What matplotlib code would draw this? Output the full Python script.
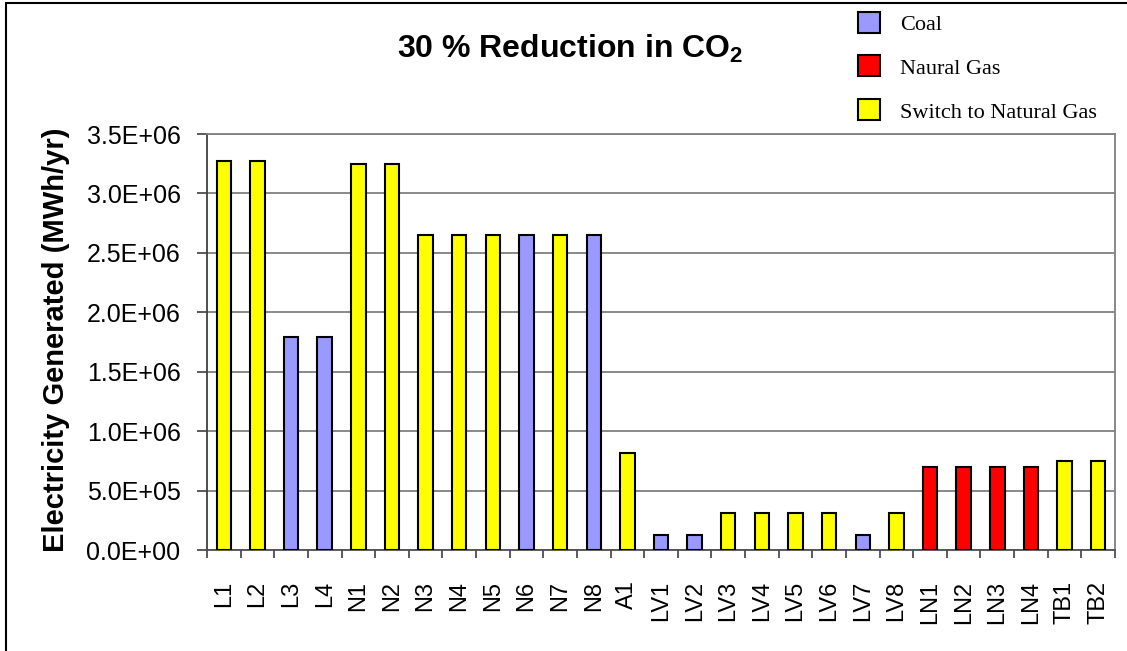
"""
30 % reduction in CO2 - electricity generated per plant
"""
import matplotlib
matplotlib.use("Agg")
import matplotlib.pyplot as plt
from matplotlib.patches import Rectangle

plt.rcParams["font.family"] = ["Liberation Sans", "DejaVu Sans"]
plt.rcParams["mathtext.fontset"] = "custom"
plt.rcParams["mathtext.rm"] = "Liberation Sans"
plt.rcParams["mathtext.bf"] = "Liberation Sans:bold"

# plants and generation (MWh/yr)
plants = ["L1", "L2", "L3", "L4", "N1", "N2", "N3", "N4", "N5", "N6", "N7", "N8",
          "A1", "LV1", "LV2", "LV3", "LV4", "LV5", "LV6", "LV7", "LV8",
          "LN1", "LN2", "LN3", "LN4", "TB1", "TB2"]
generation = [3.27e6, 3.27e6, 1.79e6, 1.79e6, 3.25e6, 3.25e6, 2.65e6, 2.65e6,
              2.65e6, 2.65e6, 2.65e6, 2.65e6,
              0.82e6, 0.13e6, 0.13e6, 0.31e6, 0.31e6, 0.31e6, 0.31e6, 0.13e6, 0.31e6,
              0.70e6, 0.70e6, 0.70e6, 0.70e6, 0.745e6, 0.745e6]
fuel = ["S", "S", "C", "C", "S", "S", "S", "S", "S", "C", "S", "C",
        "S", "C", "C", "S", "S", "S", "S", "C", "S",
        "G", "G", "G", "G", "S", "S"]

fuel_keys = ["C", "G", "S"]
fuel_labels = ["Coal", "Naural Gas", "Switch to Natural Gas"]
fuel_colors = {"C": "#9999FF", "G": "#FF0000", "S": "#FFFF00"}

y_ticks = [0, 0.5e6, 1.0e6, 1.5e6, 2.0e6, 2.5e6, 3.0e6, 3.5e6]

W, H = 1127, 651
fig = plt.figure(figsize=(W / 100, H / 100), dpi=100)
ax = fig.add_axes([207 / W, 1 - 550 / H, 908 / W, 416 / H])

x = list(range(len(plants)))
ax.bar(x, generation, width=0.43, color=[fuel_colors[f] for f in fuel],
       edgecolor="black", linewidth=1.5, zorder=3)

ax.set_xlim(-0.5, len(plants) - 0.5)
ax.set_ylim(0, 3.5e6)
ax.set_yticks(y_ticks)
ax.set_yticklabels([f"{v:.1E}" for v in y_ticks])
ax.yaxis.grid(True, color="#808080", linewidth=1.3, zorder=0)

ax.set_xticks(x)
ax.set_xticklabels(plants, rotation=90, va="top")
ax.set_xticks([i - 0.5 for i in range(len(plants) + 1)], minor=True)
ax.tick_params(axis="x", which="major", length=0, pad=22, labelsize=17)
ax.tick_params(axis="x", which="minor", length=6, width=1.2, color="#404040")
ax.tick_params(axis="y", length=7, width=1.2, color="#404040", pad=12, labelsize=18)

ax.spines["left"].set_color("#404040")
ax.spines["bottom"].set_color("#505050")
ax.spines["right"].set_color("#808080")
ax.spines["top"].set_color("#808080")
for s in ax.spines.values():
    s.set_linewidth(1.3)

fig.text(570 / W, 1 - 49 / H, r"30 % Reduction in CO$_\mathbf{2}$",
         ha="center", va="center", fontsize=23, fontweight="bold")
fig.text(56 / W, 1 - 340 / H, "Electricity Generated (MWh/yr)",
         ha="center", va="center", rotation=90, fontsize=21, fontweight="bold")

# legend, outside the plot area at the top right
for i, (k, lab) in enumerate(zip(fuel_keys, fuel_labels)):
    yc = 22 + i * 43.5
    fig.patches.append(Rectangle((858 / W, 1 - (yc + 10.5) / H), 22 / W, 21 / H,
                                 transform=fig.transFigure, facecolor=fuel_colors[k],
                                 edgecolor="black", linewidth=1.5))
    fig.text(900 / W, 1 - (yc + 4) / H, lab, ha="left", va="center", fontsize=16,
             family=["Liberation Serif", "DejaVu Serif"])

# outer chart frame
fig.patches.append(Rectangle((6 / W, -0.1), 1.2, 1 - 3 / H + 0.1,
                             transform=fig.transFigure, facecolor="none",
                             edgecolor="black", linewidth=1.5))

fig.savefig("out.png", dpi=100)
